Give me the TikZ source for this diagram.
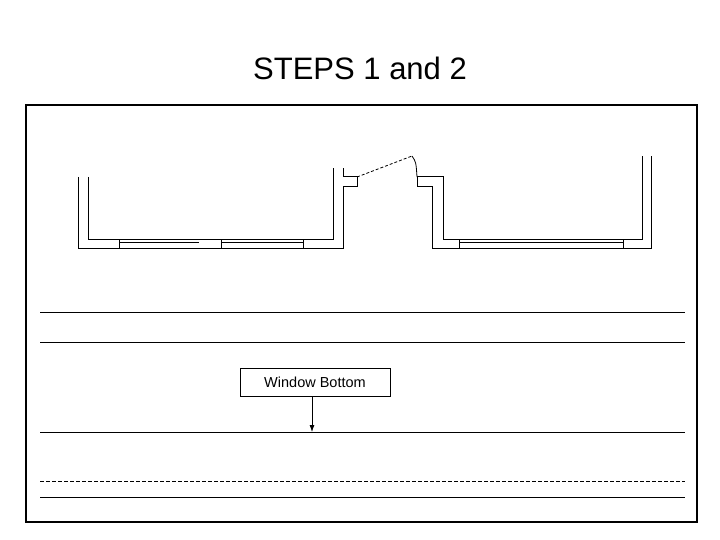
\documentclass[tikz,border=0pt]{standalone}
\usepackage{fontspec}
\setmainfont{Liberation Sans}
\usetikzlibrary{arrows.meta}
\begin{document}
\begin{tikzpicture}[x=1pt,y=-1pt,wall/.style={line width=1pt},ln/.style={line width=0.8pt}]
\useasboundingbox (0,0) rectangle (720,540);
\node[font=\fontsize{31}{33}\selectfont] (title) at (360,68) {STEPS 1 and 2};
\draw[line width=1.6pt] (26,105) rectangle (697,522);
% left room
\draw[wall] (78,177) -- (78,248) -- (343,248) -- (343,187) -- (357,187) -- (357,177) -- (343,177) -- (343,168);
\draw[wall] (88,177) -- (88,239) -- (333,239) -- (333,168);
\draw[wall] (119,239) -- (119,248) (221,239) -- (221,248) (303,239) -- (303,248);
\draw[ln] (119,242) -- (199,242) (221,242) -- (303,242);
% door
\draw[ln,densely dashed] (357,177) -- (412,156);
\draw[ln] (412,156) .. controls (416,162) .. (417,177);
% right room
\draw[wall] (417,177) -- (443,177) -- (443,239) -- (642,239) -- (642,156);
\draw[wall] (417,177) -- (417,187) -- (432,187) -- (432,248) -- (651,248) -- (651,156);
\draw[wall] (459,239) -- (459,248) (623,239) -- (623,248);
\draw[ln] (459,242) -- (623,242);
% lines
\draw[ln] (40,312) -- (685,312);
\draw[ln] (40,342) -- (685,342);
\draw[ln] (40,432) -- (685,432);
\draw[ln,dash pattern=on 4pt off 2pt] (40,481) -- (685,481);
\draw[ln] (40,497) -- (685,497);
\node[draw,line width=0.8pt,minimum width=150pt,minimum height=28pt,font=\fontsize{14.5}{16}\selectfont] (wb) at (315,382) {Window Bottom};
\coordinate (tip) at (312,432);
\draw[ln,-{Latex[length=7pt,width=5pt]}] (wb.south -| tip) -- (tip);
\end{tikzpicture}
\end{document}
